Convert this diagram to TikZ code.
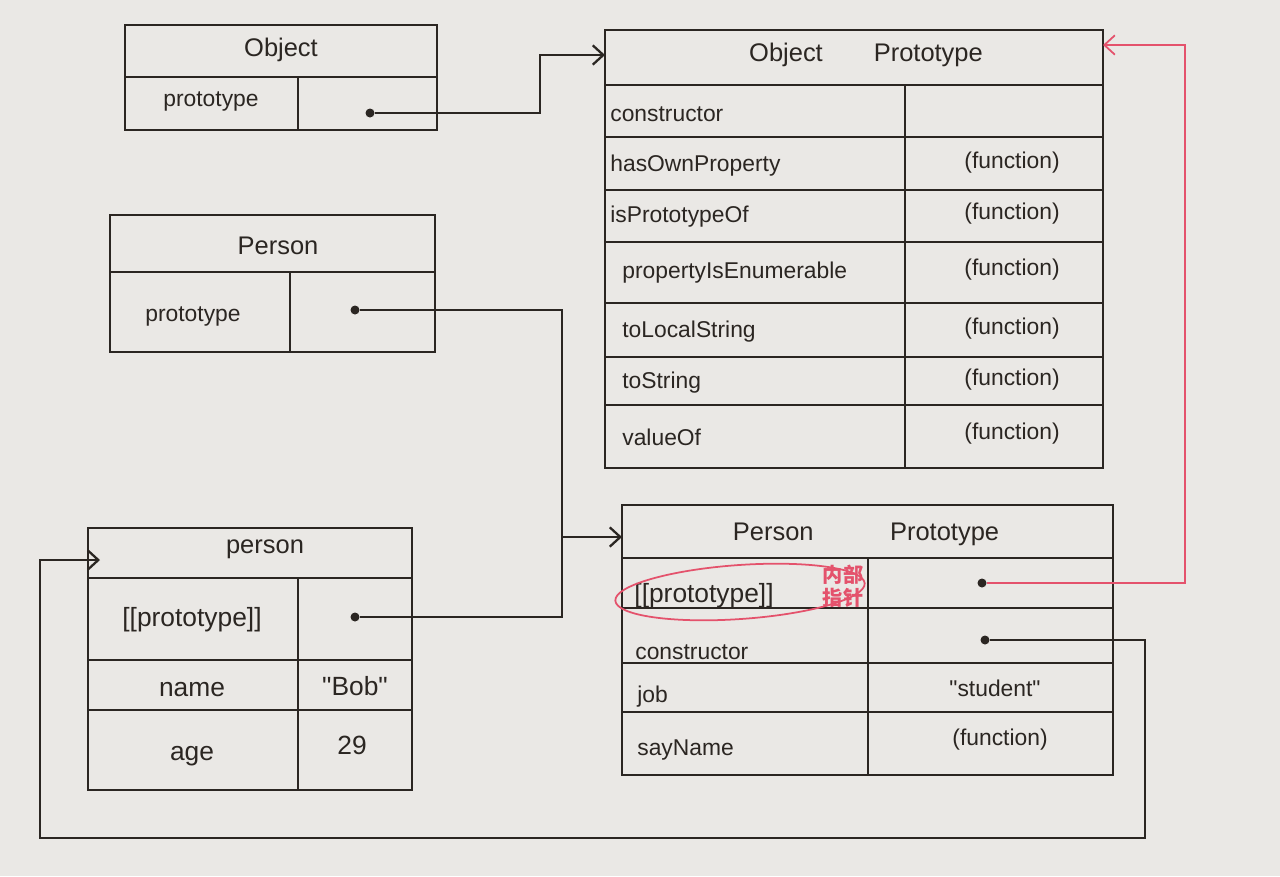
\documentclass[tikz,border=0pt]{standalone}
\usepackage{fontspec}
\setmainfont{Liberation Sans}[Ligatures=TeXOff]
\newfontfamily\cjk{Noto Sans CJK SC}
\usepackage{xcolor}
\usepackage{tikz}
\definecolor{ink}{HTML}{2B2622}
\definecolor{pen}{HTML}{E4526C}
\definecolor{paper}{HTML}{EAE8E5}
\usetikzlibrary{arrows.meta}
\usetikzlibrary{positioning}

\tikzset{
	tab/.style={line width=1.5pt, draw=ink},
	dot/.style={circle, fill=ink, inner sep=0pt, minimum size=0.18cm},
	txt/.style={inner sep=0pt, text=ink, font=\fontsize{13}{15}\selectfont},
	lft/.style={txt, anchor=west},
	head/.style={inner sep=0pt, text=ink, font=\fontsize{14.5}{16}\selectfont},
	big/.style={inner sep=0pt, text=ink, font=\fontsize{15}{17}\selectfont},
	link/.style={line width=1.3pt, draw=ink},
	arr/.style={link, -{Straight Barb[length=6pt, width=11pt]}},
	redarr/.style={line width=1pt, draw=pen, -{Straight Barb[length=6pt, width=11pt]}}
}
\newcommand{\qq}[1]{"#1"}

\begin{document}
\begin{tikzpicture}[x=0.02cm, y=-0.02cm]
		%Papier
		\fill[paper] (0,0) rectangle (1280,876);
		\useasboundingbox (0,0) rectangle (1280,876);

		%Object
		\draw[tab] (125,25) rectangle (437,130);
		\draw[tab] (125,77) -- (437,77);
		\draw[tab] (298,77) -- (298,130);
		\node[head] (objhead) at (281,50) {Object};
		\node[txt] (objproto) at (211,101) {prototype};
		\node[dot] (objdot) at (370,113) {};

		%Object Prototype
		\draw[tab] (605,30) rectangle (1103,468);
		\foreach \y in {85,137,190,242,303,357,405}
			\draw[tab] (605,\y) -- (1103,\y);
		\draw[tab] (905,85) -- (905,468);
		\coordinate (opin) at (605,55);
		\coordinate (opred) at (1103,45);
		\node[head] (ophead) at (866,55) {Object\hspace{2em}Prototype};
		\node[lft] (opctor) at (610,114) {constructor};
		\foreach \y/\name/\dx [count=\i] in {166/hasOwnProperty/0, 217/isPrototypeOf/0, 273/propertyIsEnumerable/12, 332/toLocalString/12, 383/toString/12, 437/valueOf/12}
		{
			\node[lft] (oprow\i) at (610+\dx,\y) {\name};
			\node[txt] (opfun\i) at (1012,\y-3) {(function)};
		}

		%Person
		\draw[tab] (110,215) rectangle (435,352);
		\draw[tab] (110,272) -- (435,272);
		\draw[tab] (290,272) -- (290,352);
		\node[head] (perhead) at (278,246) {Person};
		\node[txt] (perproto) at (193,316) {prototype};
		\node[dot] (perdot) at (355,310) {};

		%person (Instanz)
		\draw[tab] (88,528) rectangle (412,790);
		\foreach \y in {578,660,710}
			\draw[tab] (88,\y) -- (412,\y);
		\draw[tab] (298,578) -- (298,790);
		\coordinate (insin) at (100,560);
		\node[head] (inshead) at (265,549) {person};
		\node[big] (insproto) at (192,620) {[[prototype]]};
		\node[dot] (insdot) at (355,617) {};
		\node[big] (insname) at (192,690) {name};
		\node[big] (insbob) at (355,686) {\qq{Bob}};
		\node[big] (insage) at (192,756) {age};
		\node[big] (insval) at (352,745) {29};

		%Person Prototype
		\draw[tab] (622,505) rectangle (1113,775);
		\foreach \y in {558,608,663,712}
			\draw[tab] (622,\y) -- (1113,\y);
		\draw[tab] (868,558) -- (868,775);
		\coordinate (ppin) at (622,537);
		\node[head] (pphead) at (866,534) {Person\hspace{3em}Prototype};
		\node[big] (ppproto) at (704,596) {[[prototype]]};
		\node[dot] (ppdot) at (982,583) {};
		\node[lft] (ppctor) at (635,652) {constructor};
		\node[dot] (ctordot) at (985,640) {};
		\node[lft] (ppjob) at (637,697) {job};
		\node[txt] (ppjobval) at (995,688) {\qq{student}};
		\node[lft] (ppsay) at (637,750) {sayName};
		\node[txt] (ppfun) at (1000,740) {(function)};

		%Markierung innerer Zeiger
		\draw[pen, line width=1pt, rotate around={4:(740,592)}] (740,592) ellipse [x radius=2.5cm, y radius=0.54cm];
		\node[text=pen, inner sep=0pt, align=center, font=\cjk\bfseries\fontsize{11.5}{13}\selectfont] (note) at (843,586) {内部\\指针};

		%Verbindungen
		\draw[arr] (objdot) -- (540,113) |- (opin);
		\draw[link] (perdot) -| (562,537);
		\draw[arr] (insdot) -| (562,537) -- (ppin);
		\draw[redarr] (ppdot) -- (1185,583) |- (opred);
		\draw[arr] (ctordot) -- (1145,640) -- (1145,838) -| (40,560) -- (insin);
\end{tikzpicture}
\end{document}
